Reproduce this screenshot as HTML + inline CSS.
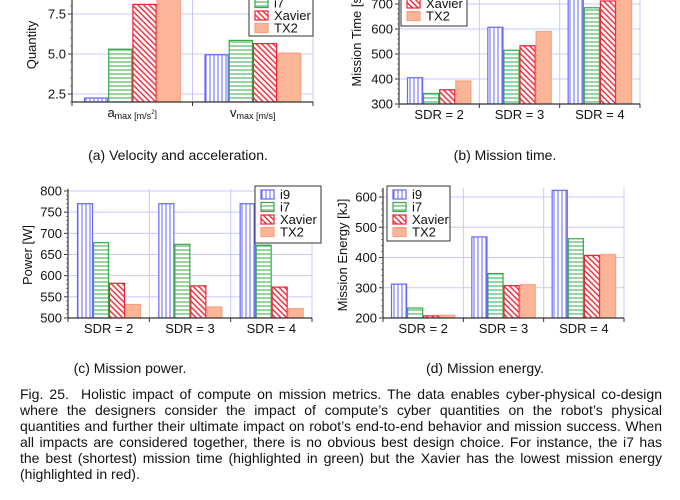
<!DOCTYPE html>
<html><head><meta charset="utf-8"><style>
body{margin:0;background:#fff;width:680px;height:500px;overflow:hidden;font-family:"Liberation Sans",sans-serif;position:relative}
svg{position:absolute;left:0;top:0}
#cap{position:absolute;left:20px;top:386px;width:642px;font-size:14px;line-height:16px;color:#111}
#cap div{text-align:justify;text-align-last:justify;white-space:nowrap}
#cap div.last{text-align-last:left}
</style></head><body>
<svg id="fig" width="680" height="500">
<defs>
<pattern id="pv" width="4" height="4" patternUnits="userSpaceOnUse"><rect width="4" height="4" fill="#fff"/><line x1="2" y1="0" x2="2" y2="4" stroke="#6666ff" stroke-width="1"/></pattern>
<pattern id="ph" width="4" height="4" patternUnits="userSpaceOnUse"><rect width="4" height="4" fill="#fff"/><line x1="0" y1="2" x2="4" y2="2" stroke="#33aa44" stroke-width="1"/></pattern>
<pattern id="pd" width="4" height="4" patternUnits="userSpaceOnUse" patternTransform="rotate(45)"><rect width="4" height="4" fill="#fff"/><line x1="0" y1="2" x2="4" y2="2" stroke="#ee2233" stroke-width="1.4"/></pattern>
</defs>
</svg>
<div id="cap">
<div>Fig. 25.&nbsp; Holistic impact of compute on mission metrics. The data enables cyber-physical co-design</div>
<div>where the designers consider the impact of compute’s cyber quantities on the robot’s physical</div>
<div>quantities and further their ultimate impact on robot’s end-to-end behavior and mission success. When</div>
<div>all impacts are considered together, there is no obvious best design choice. For instance, the i7 has</div>
<div>the best (shortest) mission time (highlighted in green) but the Xavier has the lowest mission energy</div>
<div class="last">(highlighted in red).</div>
</div>
<script>
const series = ["i9","i7","Xavier","TX2"];
const catsA = ["a","v"];
const valsA = [[2.25,4.95],[5.3,5.85],[8.1,5.65],[8.6,5.05]];
const ticksA = [2.5,5.0,7.5];
const catsSDR = ["SDR = 2","SDR = 3","SDR = 4"];
const valsB = [[405,607,740],[342,515,685],[357,533,712],[392,590,740]];
const ticksB = [300,400,500,600,700];
const valsC = [[770,770,770],[678,674,672],[582,576,573],[532,526,522]];
const ticksC = [500,550,600,650,700,750,800];
const valsD = [[312,468,622],[233,347,462],[207,307,407],[209,310,410]];
const ticksD = [200,300,400,500,600];

const NS="http://www.w3.org/2000/svg";
const svg=document.getElementById('fig');
function mk(tag,attrs,parent){const e=document.createElementNS(NS,tag);for(const k in attrs)e.setAttribute(k,attrs[k]);(parent||svg).appendChild(e);return e;}
const fills=["url(#pv)","url(#ph)","url(#pd)","#fdb597"];
const strokes=["#6666ff","#33aa44","#ee2233","#f8a080"];

function chart(c){
  const g=mk('g',{});
  
  
  const y=v=>c.py0+(v-c.v0)*(c.py1-c.py0)/(c.v1-c.v0);
  const top=Math.max(0,y(c.vTop));
  const n=c.cats.length, gw=(c.x1-c.x0)/n;
  c.ticks.forEach(t=>{const l=mk('line',{x1:c.x0,x2:c.x1,y1:y(t),y2:y(t),stroke:'#c8c8ff','stroke-width':1},g);});
  for(let i=1;i<=n;i++){const l=mk('line',{x1:c.x0+gw*i,x2:c.x0+gw*i,y1:top,y2:y(c.v0),stroke:'#c8c8ff','stroke-width':1},g);}
  const cp=mk('clipPath',{id:'cl'+c.name},g);mk('rect',{x:c.x0,y:top,width:c.x1-c.x0,height:y(c.v0)-top},cp);
  const bg=mk('g',{'clip-path':'url(#cl'+c.name+')'},g);
  for(let s=0;s<4;s++)for(let i=0;i<n;i++){
    const v=c.vals[s][i];const bx=c.x0+gw*i+c.pad+s*c.bw;
    const r=mk('rect',{x:bx+0.5,y:y(v),width:c.bw-1,height:y(c.v0)-y(v),fill:fills[s],stroke:strokes[s],'stroke-width':1.2},bg);
    
    
  }
  mk('line',{x1:c.x0,x2:c.x1,y1:y(c.v0),y2:y(c.v0),stroke:'#333','stroke-width':1.2},g);
  mk('line',{x1:c.x0,x2:c.x0,y1:top,y2:y(c.v0),stroke:'#333','stroke-width':1.2},g);
  for(let i=0;i<=n;i++)mk('line',{x1:c.x0+gw*i,x2:c.x0+gw*i,y1:y(c.v0),y2:y(c.v0)+4,stroke:'#333'},g);
  c.ticks.forEach(t=>{
    mk('line',{x1:c.x0-4,x2:c.x0,y1:y(t),y2:y(t),stroke:'#333'},g);
    const tx=mk('text',{x:c.x0-6,y:y(t)+4.5,'text-anchor':'end','font-size':13,fill:'#111'},g);
    tx.textContent=c.fmt?t.toFixed(1):t;
    
  });
  const step=(c.ticks[1]-c.ticks[0])/5;
  for(let v=c.ticks[0]-5*step;v<=c.vTop;v+=step){if(v<c.v0||y(v)<top)continue;mk('line',{x1:c.x0-2,x2:c.x0,y1:y(v),y2:y(v),stroke:'#555','stroke-width':0.7},g);}
  c.cats.forEach((k,i)=>{
    const tx=mk('text',{x:c.x0+gw*(i+0.5),y:y(c.v0)+15,'text-anchor':'middle','font-size':13,fill:'#111'},g);
    if(c.catHtml){tx.innerHTML=c.catHtml[i];}else tx.textContent=k;
    
  });
  const yt=mk('text',{x:0,y:0,transform:`translate(${c.ylx},${c.yly}) rotate(-90)`,'text-anchor':'middle','font-size':13,fill:'#111'},g);
  yt.textContent=c.ytitle;
  const L=c.leg;
  const lb=mk('rect',{x:L.x,y:L.y,width:L.w,height:L.h,fill:'#fff',stroke:'#333','stroke-width':1},g);
  
  for(let s=0;s<4;s++){
    const ly=L.y+L.first+s*12.5;
    mk('rect',{x:L.x+6,y:ly-8,width:13,height:9,fill:fills[s],stroke:strokes[s],'stroke-width':1.2},g);
    const t=mk('text',{x:L.x+25,y:ly+1,'font-size':13,fill:'#111'},g);t.textContent=series[s];
    
  }
  const sc=mk('text',{x:c.capx,y:c.capy,'text-anchor':'middle','font-size':14,fill:'#111'},g);
  sc.textContent=c.cap;
}
chart({name:'velocity-chart',x0:72,x1:313,v0:2,v1:7.5,py0:102,py1:14,vTop:8.6,ticks:ticksA,fmt:true,vals:valsA,cats:catsA,
  catHtml:['a<tspan font-size="9" dy="2">max [m/s</tspan><tspan font-size="6" dy="-5">2</tspan><tspan font-size="9" dy="3">]</tspan>','v<tspan font-size="9" dy="2">max [m/s]</tspan>'],
  pad:12,bw:24.2,ytitle:'Quantity',ylx:36,yly:45,leg:{x:249,y:-14,w:64,h:50,first:8},cap:'(a) Velocity and acceleration.',capx:178,capy:160});
chart({name:'mission-time-chart',x0:399,x1:640,v0:300,v1:700,py0:104,py1:4,vTop:720,ticks:ticksB,vals:valsB,cats:catsSDR,
  pad:8,bw:16.1,ytitle:'Mission Time [s]',ylx:361,yly:40,leg:{x:401,y:-26,w:66,h:52,first:8},cap:'(b) Mission time.',capx:505,capy:160});
chart({name:'mission-power-chart',x0:68,x1:312,v0:500,v1:800,py0:318,py1:191,vTop:805,ticks:ticksC,vals:valsC,cats:catsSDR,
  pad:9,bw:16,ytitle:'Power [W]',ylx:32,yly:255,leg:{x:255,y:186,w:66,h:57,first:12},cap:'(c) Mission power.',capx:130,capy:373});
chart({name:'mission-energy-chart',x0:383,x1:624,v0:200,v1:600,py0:318,py1:197,vTop:630,ticks:ticksD,vals:valsD,cats:catsSDR,
  pad:8,bw:16.1,ytitle:'Mission Energy [kJ]',ylx:347,yly:255,leg:{x:387,y:186,w:63,h:55,first:12},cap:'(d) Mission energy.',capx:485,capy:373});
</script>
</body></html>
